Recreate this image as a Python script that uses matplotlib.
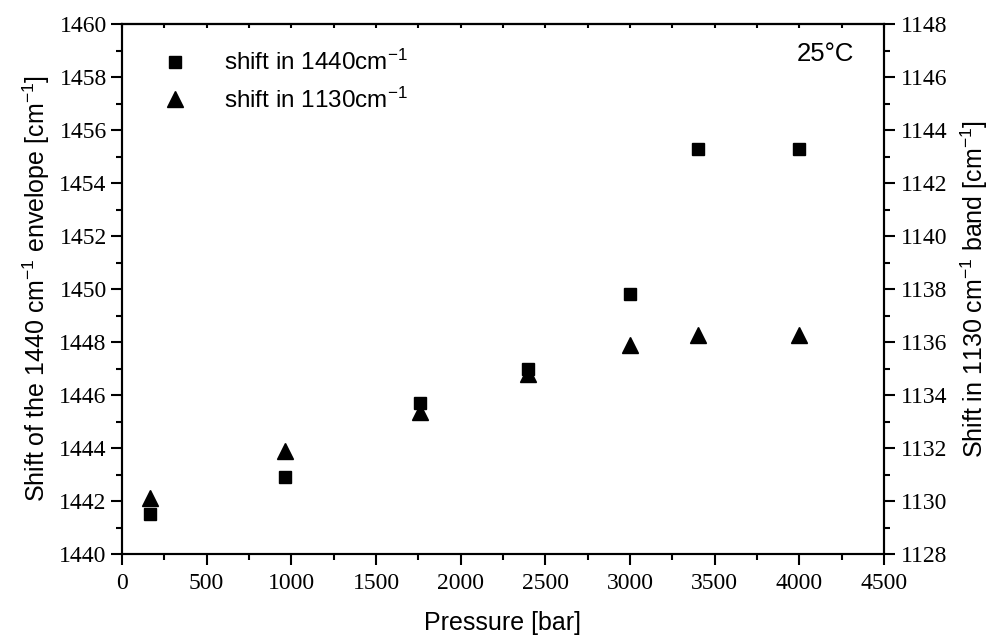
import matplotlib
matplotlib.use("Agg")
import matplotlib.pyplot as plt
from matplotlib.ticker import MultipleLocator

# Raman band shifts versus pressure at 25 °C
pressure = [165, 963, 1760, 2400, 3000, 3400, 4000]
shift_1440 = [1441.5, 1442.9, 1445.7, 1447.0, 1449.8, 1455.3, 1455.3]
shift_1130 = [1130.1, 1131.9, 1133.35, 1134.8, 1135.9, 1136.25, 1136.25]

x_ticks = [0, 500, 1000, 1500, 2000, 2500, 3000, 3500, 4000, 4500]
left_ticks = [1440, 1442, 1444, 1446, 1448, 1450, 1452, 1454, 1456, 1458, 1460]
right_ticks = [1128, 1130, 1132, 1134, 1136, 1138, 1140, 1142, 1144, 1146, 1148]

plt.rcParams['font.family'] = ['Liberation Sans', 'DejaVu Sans']
plt.rcParams['mathtext.fontset'] = 'custom'
plt.rcParams['mathtext.rm'] = 'Liberation Sans'
plt.rcParams['mathtext.it'] = 'Liberation Sans:italic'

W, H = 996, 639
fig = plt.figure(figsize=(W / 100, H / 100), dpi=100)
ax = fig.add_axes([122 / W, 1 - 554 / H, (884 - 122) / W, (554 - 24) / H])
ax2 = ax.twinx()

sq, = ax.plot(pressure, shift_1440, linestyle='none', marker='s', ms=8.8,
              color='black', label='shift in 1440cm$^{-1}$', zorder=3)
tri, = ax2.plot(pressure, shift_1130, linestyle='none', marker='^', ms=12,
                color='black', label='shift in 1130cm$^{-1}$', zorder=3)

ax.set_xlim(0, 4500)
ax.set_ylim(1440, 1460)
ax2.set_ylim(1128, 1148)
ax.set_xticks(x_ticks)
ax.set_yticks(left_ticks)
ax2.set_yticks(right_ticks)
ax.xaxis.set_minor_locator(MultipleLocator(250))
ax.yaxis.set_minor_locator(MultipleLocator(1))
ax2.yaxis.set_minor_locator(MultipleLocator(1))

for a in (ax, ax2):
    for s in a.spines.values():
        s.set_linewidth(1.5)
for lbl in ax.get_xticklabels() + ax.get_yticklabels() + ax2.get_yticklabels():
    lbl.set_fontfamily('Liberation Serif')
    lbl.set_fontsize(17)

ax.tick_params(axis='both', which='major', direction='out', length=8, width=1.5, pad=3)
ax.tick_params(axis='x', which='major', pad=6)
ax.tick_params(axis='both', which='minor', direction='out', length=4.5, width=1.5)
ax.tick_params(axis='y', which='both', right=False)
ax2.tick_params(axis='y', which='major', direction='out', length=8, width=1.5, pad=4)
ax2.tick_params(axis='y', which='minor', direction='out', length=4.5, width=1.5)

# short inward ticks along the top edge
top = ax.secondary_xaxis('top')
top.set_xticks(x_ticks)
top.xaxis.set_minor_locator(MultipleLocator(250))
top.tick_params(axis='x', which='both', direction='in', length=3, width=1.5, labeltop=False)
top.spines['top'].set_linewidth(1.5)

ax.set_xlabel('Pressure [bar]', fontsize=18, labelpad=12)
ax.set_ylabel('Shift of the 1440 cm$^{-1}$ envelope [cm$^{-1}$]', fontsize=18, labelpad=5)
ax2.set_ylabel('Shift in 1130 cm$^{-1}$ band [cm$^{-1}$]', fontsize=18, labelpad=8)

ax.text(0.9606, 0.966, '25°C', transform=ax.transAxes, ha='right', va='top', fontsize=18.5)

fig.legend(handles=[sq, tri], loc='upper left',
           bbox_to_anchor=(164 / W, 1 - 50 / H), frameon=False, fontsize=17.5,
           handlelength=0.9, handletextpad=1.55, borderpad=0, borderaxespad=0,
           labelspacing=0.5)

fig.savefig('out.png', dpi=100)
